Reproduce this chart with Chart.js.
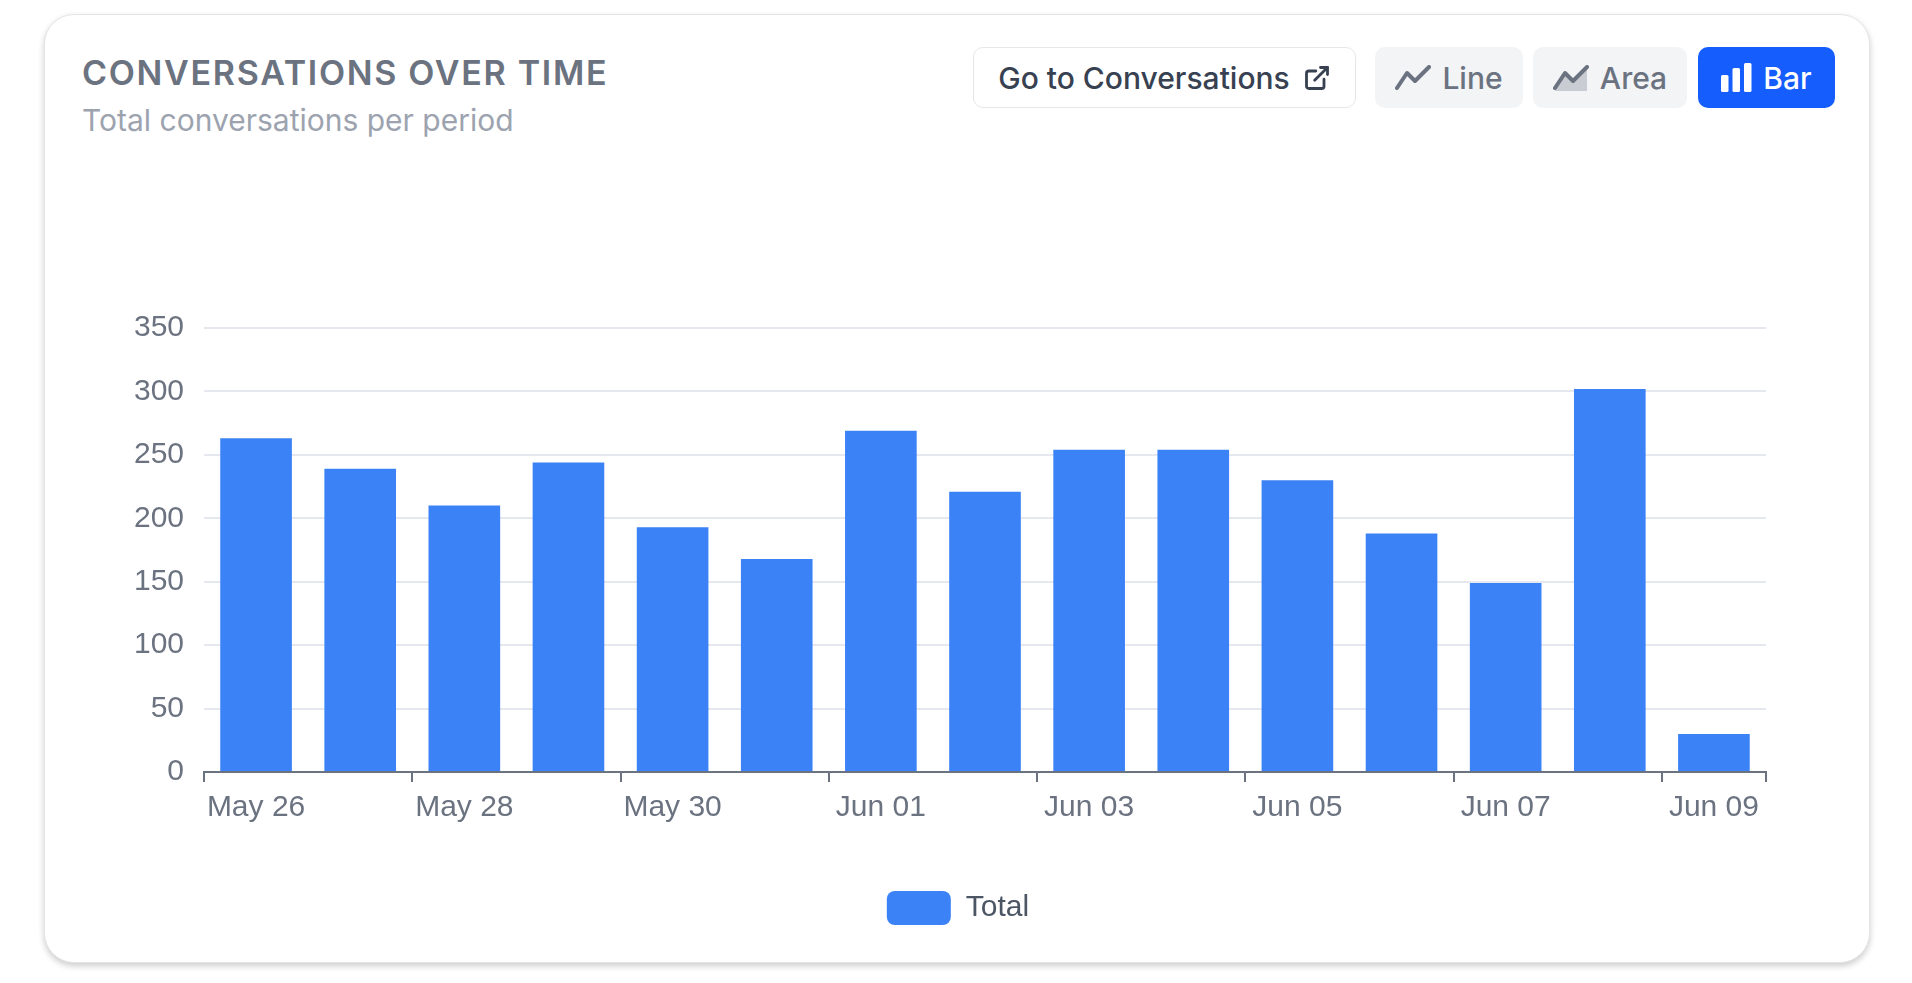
<!DOCTYPE html>
<html>
<head>
<meta charset="utf-8">
<title>Conversations over time</title>
<script src="https://cdn.jsdelivr.net/npm/chart.js@4.4.1/dist/chart.umd.min.js"></script>
<style>
  html, body { margin: 0; padding: 0; background: #fff; }
  body { width: 1912px; height: 983px; overflow: hidden; position: relative; font-family: Inter, "Noto Sans", sans-serif; }
  .card { position: absolute; left: 44px; top: 14px; width: 1826px; height: 949px; box-sizing: border-box;
          border: 1px solid #e3e5e8; border-radius: 30px; background: #fff; box-shadow: 0 3px 6px rgba(0,0,0,0.2); }
  .title { position: absolute; left: 82px; top: 56px; font-size: 34px; line-height: 34px; font-weight: 600;
           letter-spacing: 0.05em; color: #6b7280; white-space: nowrap; }
  .subtitle { position: absolute; left: 82px; top: 105px; font-size: 30px; line-height: 30px; font-weight: 400;
              color: #9ca3af; white-space: nowrap; }
  .btn { position: absolute; top: 47px; height: 61px; box-sizing: border-box; border-radius: 10px;
         display: flex; align-items: center; justify-content: center; gap: 11px;
         font-size: 30px; font-weight: 500; white-space: nowrap; }
  .btn-go { left: 973px; width: 383px; background: #fff; border: 1.5px solid #e5e7eb; color: #374151; gap: 13px; }
  .btn-line { left: 1375px; width: 148px; background: #f3f4f6; color: #6b7280; }
  .btn-area { left: 1533px; width: 154px; background: #f3f4f6; color: #6b7280; }
  .btn-bar { left: 1698px; width: 137px; background: #155dfc; color: #fff; }
  .chart-box { position: absolute; left: 82px; top: 290px; width: 1752px; height: 660px; }
</style>
</head>
<body>
<div class="card"></div>
<div class="title">CONVERSATIONS OVER TIME</div>
<div class="subtitle">Total conversations per period</div>

<div class="btn btn-go">
  <span>Go to Conversations</span>
  <svg width="28" height="28" viewBox="0 0 24 24" fill="none" stroke="currentColor" stroke-width="2.4" stroke-linecap="round" stroke-linejoin="round">
    <path d="M18 13v6a2 2 0 0 1-2 2H5a2 2 0 0 1-2-2V8a2 2 0 0 1 2-2h6"/><path d="M15 3h6v6"/><path d="M10 14L21 3"/>
  </svg>
</div>
<div class="btn btn-line">
  <svg width="36" height="26" viewBox="0 0 36 26"><polyline points="2,23 12,8 20,16 34,2" fill="none" stroke="currentColor" stroke-width="4" stroke-linecap="round" stroke-linejoin="round"/></svg>
  <span>Line</span>
</div>
<div class="btn btn-area">
  <svg width="36" height="26" viewBox="0 0 36 26">
    <polygon points="2,23 12,8 20,16 34,2 34,26 2,26" fill="#c9ccd2"/>
    <polyline points="2,23 12,8 20,16 34,2" fill="none" stroke="currentColor" stroke-width="4" stroke-linecap="round" stroke-linejoin="round"/>
  </svg>
  <span>Area</span>
</div>
<div class="btn btn-bar">
  <svg width="31" height="29" viewBox="0 0 31 29" fill="#fff">
    <rect x="0" y="12" width="7.5" height="17" rx="1.5"/><rect x="11.5" y="5" width="7.5" height="24" rx="1.5"/><rect x="23" y="0" width="7.5" height="29" rx="1.5"/>
  </svg>
  <span>Bar</span>
</div>

<div class="chart-box"><canvas id="convChart"></canvas></div>

<script>
const dates = ["May 26", "May 27", "May 28", "May 29", "May 30", "May 31", "Jun 01", "Jun 02",
               "Jun 03", "Jun 04", "Jun 05", "Jun 06", "Jun 07", "Jun 08", "Jun 09"];
const totals = [263, 239, 210, 244, 193, 168, 269, 221, 254, 254, 230, 188, 149, 302, 30];
const yMin = 0;
const yMax = 350;
const yStep = 50;

const axisGray = "#6b7280";
const chartFont = { family: '"Liberation Sans", Arial, sans-serif', size: 30 };

Chart.defaults.font.family = chartFont.family;

new Chart(document.getElementById("convChart"), {
    type: "bar",
    data: {
        labels: dates,
        datasets: [
            {
                label: "Total",
                data: totals,
                backgroundColor: "#3b82f6",
                barPercentage: 0.86,
                categoryPercentage: 0.8,
            },
        ],
    },
    options: {
        responsive: true,
        maintainAspectRatio: false,
        animation: false,
        layout: { padding: { top: 37, right: 0, bottom: 15, left: 0 } },
        plugins: {
            legend: {
                position: "bottom",
                labels: {
                    boxWidth: 64,
                    boxHeight: 34,
                    padding: 10,
                    useBorderRadius: true,
                    borderRadius: 8,
                    color: "#4b5563",
                    font: chartFont,
                },
            },
            tooltip: { enabled: false },
        },
        scales: {
            x: {
                grid: {
                    drawOnChartArea: false,
                    drawTicks: true,
                    tickLength: 10,
                    lineWidth: 2,
                    // tick marks only under the labelled days, plus the closing one
                    color: (ctx) => (ctx.index === undefined || ctx.index % 2 === 0) ? axisGray : "rgba(0,0,0,0)",
                },
                border: { display: true, color: axisGray, width: 2 },
                ticks: {
                    autoSkip: false,
                    maxRotation: 0,
                    padding: 8,
                    color: axisGray,
                    font: chartFont,
                    callback: (value, i) => (i % 2 === 0 ? dates[i] : ""),
                },
                afterFit: (scale) => { scale.height = 109; },
            },
            y: {
                min: yMin,
                max: yMax,
                grid: { color: "#e6e8f0", lineWidth: 2, drawTicks: false },
                border: { display: false },
                ticks: { stepSize: yStep, padding: 20, color: axisGray, font: chartFont },
                afterFit: (scale) => { scale.width = 122; },
            },
            // empty right-hand gutter so the legend sits centred on the card
            gutter: {
                position: "right",
                grid: { display: false },
                border: { display: false },
                ticks: { display: false },
                afterFit: (scale) => { scale.width = 68; },
            },
        },
    },
});
</script>
</body>
</html>
